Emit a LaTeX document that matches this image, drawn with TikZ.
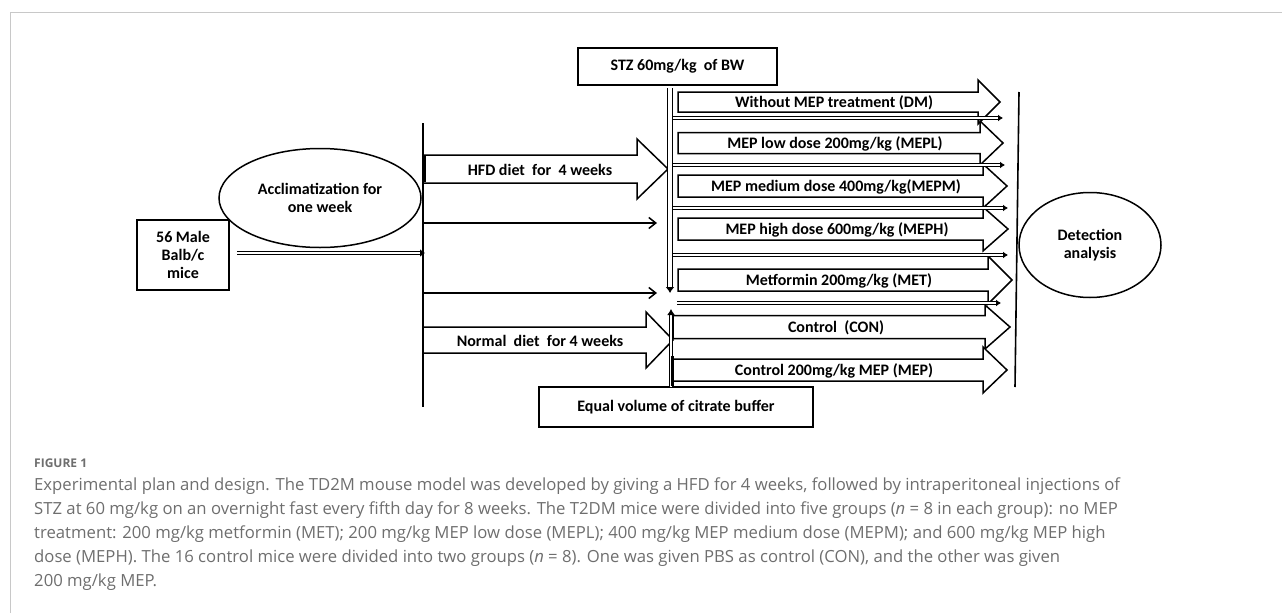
\documentclass[tikz,border=0pt]{standalone}
\usepackage{fontspec}
\newfontfamily\carl{Carlito}
\newfontfamily\capf{Open Sans}
\usetikzlibrary{arrows.meta,shapes.geometric,calc}
\definecolor{capgray}{HTML}{6E6E6E}
\definecolor{framegray}{HTML}{C8C8C8}
\newcommand\blockarr[6]{\draw[blk] (#1,{#4-#5}) -- (#2,{#4-#5}) -- (#2,{#4-#6}) -- (#3,#4) -- (#2,{#4+#6}) -- (#2,{#4+#5}) -- (#1,{#4+#5}) -- cycle;}
\tikzset{
 lbl/.style={font=\carl\bfseries\fontsize{16}{18}\selectfont, align=center, inner sep=0pt},
 boxst/.style={draw, line width=1.5pt, lbl},
 ell/.style={draw, ellipse, line width=1.5pt, lbl, inner sep=0pt},
 bar/.style={line width=1.6pt},
 thinarr/.style={line width=1.5pt, -{Straight Barb[length=7pt, width=11pt, line width=1.5pt]}},
 hol/.style={double, double distance=1.2pt, line width=1.6pt, -{Latex[length=5pt,width=7pt]}},
 blk/.style={line width=1.5pt, fill=white, line join=miter},
 captxt/.style={font=\capf\fontsize{16.7}{24}\selectfont, text=capgray, anchor=base west, inner sep=0pt},
}
\begin{document}
\begin{tikzpicture}[x=1pt,y=-1pt]
\useasboundingbox (0,0) rectangle (1282,613);
% frame
\draw[framegray, line width=1pt] (10,613) -- (10,12) -- (1282,12);

% left part
\node[boxst, minimum width=92pt, minimum height=70pt] (mice) at (183,255) {56 Male\\Balb/c\\mice};
\node[ell, minimum width=202pt, minimum height=99pt] (accl) at (320,198) {Acclimatization for\\one week};

% first vertical line
\coordinate (v1top) at (423,123);
\coordinate (v1bot) at (423,407);
\draw[bar] (v1top) -- (v1bot);
\coordinate (micestart) at (237,253);
\coordinate (miceend) at (425,253);
\draw[double, double distance=2.5pt, line width=1.2pt, -{Latex[length=5pt,width=8pt]}] (micestart) -- (miceend);

% HFD and normal diet block arrows
\blockarr{423}{637}{668}{169}{14}{30}
\node[lbl] (hfd) at (540,170) {HFD diet~ for~ 4 weeks};
\blockarr{423}{646}{673}{340}{13}{28}
\node[lbl] (normal) at (540,341) {Normal~ diet~ for 4 weeks};
\draw[line width=3pt] (424,156) -- (424,182);

% thin arrows
\coordinate (t1s) at (423,223); \coordinate (t1e) at (657,223);
\coordinate (t2s) at (423,293); \coordinate (t2e) at (657,293);
\draw[thinarr] (t1s) -- (t1e);
\draw[thinarr] (t2s) -- (t2e);

% STZ box and arrow
\node[boxst, minimum width=199pt, minimum height=37pt] (stz) at (677.5,66.5) {STZ 60mg/kg~ of BW};
\coordinate (stzs) at (670,88);
\coordinate (stze) at (670,293);
\draw[double, double distance=3.5pt, line width=1.2pt, -{Latex[length=6pt,width=9pt]}] (stzs) -- (stze);

% citrate box and arrow
\node[boxst, minimum width=274pt, minimum height=40pt] (citr) at (676,407) {Equal volume of citrate buffer};
\coordinate (cits) at (671,387);
\coordinate (cite) at (671,309);
\draw[double, double distance=2.5pt, line width=1.2pt, -{Latex[length=6pt,width=8pt]}] (cits) -- (cite);
\draw[line width=3pt] (672,356) -- (672,386);

% group block arrows
\blockarr{678}{978}{1000}{102}{10}{22}
\blockarr{678}{980}{1003}{143}{10.5}{22}
\blockarr{678}{983}{1007}{186}{11}{22}
\blockarr{678}{983}{1008}{229}{11}{22}
\blockarr{678}{988}{1012}{280}{11}{24}
\blockarr{673}{985}{1010}{327}{11.5}{22}
\blockarr{673}{983}{1007}{370}{11}{23}

\node[lbl] (dm) at (834,103) {Without MEP treatment (DM)};
\node[lbl] (mepl) at (835,144) {MEP low dose 200mg/kg (MEPL)};
\node[lbl] (mepm) at (836,187) {MEP medium dose 400mg/kg(MEPM)};
\node[lbl] (meph) at (837,230) {MEP high dose 600mg/kg (MEPH)};
\node[lbl] (met) at (839,281) {Metformin 200mg/kg (MET)};
\node[lbl] (con) at (836,328) {Control~ (CON)};
\node[lbl] (mep) at (834,371) {Control 200mg/kg MEP (MEP)};

% separators
\coordinate (s1s) at (673,118); \coordinate (s1e) at (1003,118);
\coordinate (s2s) at (673,165); \coordinate (s2e) at (1005,165);
\coordinate (s3s) at (673,208); \coordinate (s3e) at (1008,208);
\coordinate (s4s) at (673,255); \coordinate (s4e) at (1008,255);
\coordinate (s5s) at (677,303); \coordinate (s5e) at (1001,303);
\draw[hol] (s1s) -- (s1e);
\draw[hol] (s2s) -- (s2e);
\draw[hol] (s3s) -- (s3e);
\draw[hol] (s4s) -- (s4e);
\draw[hol, line width=1.2pt] (s5s) -- (s5e);

% second vertical line and detection
\coordinate (v2top) at (1019,92);
\coordinate (v2bot) at (1015,387);
\draw[bar] (v2top) -- (v2bot);
\node[ell, minimum width=142pt, minimum height=105pt] (det) at (1090,245) {Detection\\analysis};

% caption
\node[captxt, font=\capf\bfseries\fontsize{12}{14}\selectfont] (fig) at (34,467) {FIGURE 1};
\node[captxt] (c1) at (34,490) {Experimental plan and design. The TD2M mouse model was developed by giving a HFD for 4 weeks, followed by intraperitoneal injections of};
\node[captxt] (c2) at (34,514) {STZ at 60 mg/kg on an overnight fast every fifth day for 8 weeks. The T2DM mice were divided into five groups (\textit{n} = 8 in each group): no MEP};
\node[captxt] (c3) at (34,538) {treatment: 200 mg/kg metformin (MET); 200 mg/kg MEP low dose (MEPL); 400 mg/kg MEP medium dose (MEPM); and 600 mg/kg MEP high};
\node[captxt] (c4) at (34,562) {dose (MEPH). The 16 control mice were divided into two groups (\textit{n} = 8). One was given PBS as control (CON), and the other was given};
\node[captxt] (c5) at (34,586) {200 mg/kg MEP.};
\end{tikzpicture}
\end{document}
